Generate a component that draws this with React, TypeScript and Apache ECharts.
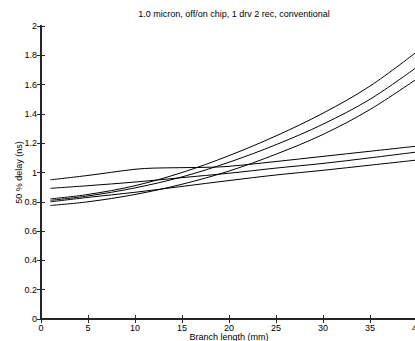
import React, { useEffect, useRef } from "react";
import * as echarts from "echarts";

const xs = [1, 5, 10, 15, 20, 25, 30, 35, 40];
const steepA = [0.82, 0.85, 0.91, 1.0, 1.115, 1.25, 1.405, 1.59, 1.825];
const steepB = [0.81, 0.84, 0.895, 0.97, 1.07, 1.19, 1.33, 1.5, 1.72];
const steepC = [0.775, 0.8, 0.85, 0.92, 1.01, 1.125, 1.26, 1.43, 1.64];
const flatDx = [1, 5, 10, 12, 15, 18, 20, 25, 30, 35, 40];
const flatD = [0.95, 0.98, 1.022, 1.03, 1.033, 1.036, 1.042, 1.075, 1.11, 1.145, 1.18];
const flatE = [0.892, 0.91, 0.935, 0.965, 0.995, 1.03, 1.062, 1.1, 1.14];
const flatF = [0.8, 0.83, 0.865, 0.905, 0.945, 0.983, 1.015, 1.05, 1.085];

const allSeries: [number[], number[]][] = [
  [xs, steepA],
  [xs, steepB],
  [xs, steepC],
  [flatDx, flatD],
  [xs, flatE],
  [xs, flatF],
];

const titleText = "1.0 micron, off/on chip, 1 drv 2 rec, conventional";
const xName = "Branch length (mm)";
const yName = "50 % delay (ns)";

const FONT = "Liberation Sans, Arial, Helvetica, sans-serif";
const AXIS_COLOR = "#262626";

export default function App() {
  const ref = useRef<HTMLDivElement>(null);
  useEffect(() => {
    if (!ref.current) return;
    const chart = echarts.init(ref.current, undefined, { renderer: "svg" });
    const axisLine = { show: true, lineStyle: { color: AXIS_COLOR, width: 2 } };
    const tick = { show: true, inside: true, length: 4, lineStyle: { color: AXIS_COLOR, width: 1 } };
    chart.setOption({
      animation: false,
      backgroundColor: "#fff",
      title: {
        text: titleText,
        left: 229,
        top: 4,
        textAlign: "center",
        textStyle: { fontSize: 9, fontWeight: "normal", color: "#000", fontFamily: FONT },
      },
      grid: { left: 41, right: -2, top: 26, bottom: 22, containLabel: false, outerBoundsMode: "none" },
      xAxis: [
        {
          type: "value",
          min: 0,
          max: 40,
          interval: 5,
          position: "bottom",
          axisLine,
          axisTick: tick,
          splitLine: { show: false },
          axisLabel: { color: "#000", fontSize: 9, margin: 4, fontFamily: FONT },
          name: xName,
          nameLocation: "middle",
          nameGap: 13,
          nameMoveOverlap: false,
          nameTextStyle: { color: "#000", fontSize: 9, fontFamily: FONT },
        },
        {
          type: "value",
          min: 0,
          max: 40,
          interval: 5,
          position: "top",
          axisLine,
          axisTick: tick,
          splitLine: { show: false },
          axisLabel: { show: false },
        },
      ],
      yAxis: [
        {
          type: "value",
          min: 0,
          max: 2,
          interval: 0.2,
          position: "left",
          axisLine,
          axisTick: tick,
          splitLine: { show: false },
          axisLabel: { color: "#000", fontSize: 9, margin: 4, fontFamily: FONT },
          name: yName,
          nameLocation: "middle",
          nameGap: 18,
          nameMoveOverlap: false,
          nameTextStyle: { color: "#000", fontSize: 9, fontFamily: FONT },
        },
        {
          type: "value",
          min: 0,
          max: 2,
          interval: 0.2,
          position: "right",
          axisLine,
          axisTick: tick,
          splitLine: { show: false },
          axisLabel: { show: false },
        },
      ],
      series: allSeries.map(([px, vals]) => ({
        type: "line",
        data: px.map((x, i) => [x, vals[i]]),
        smooth: 0.35,
        showSymbol: false,
        symbol: "none",
        lineStyle: { color: "#000", width: 1 },
        xAxisIndex: 0,
        yAxisIndex: 0,
      })),
    });
    return () => chart.dispose();
  }, []);
  return (
    <div
      ref={ref}
      style={{ position: "absolute", left: 0, top: 0, width: 415, height: 341, background: "#fff" }}
    />
  );
}
